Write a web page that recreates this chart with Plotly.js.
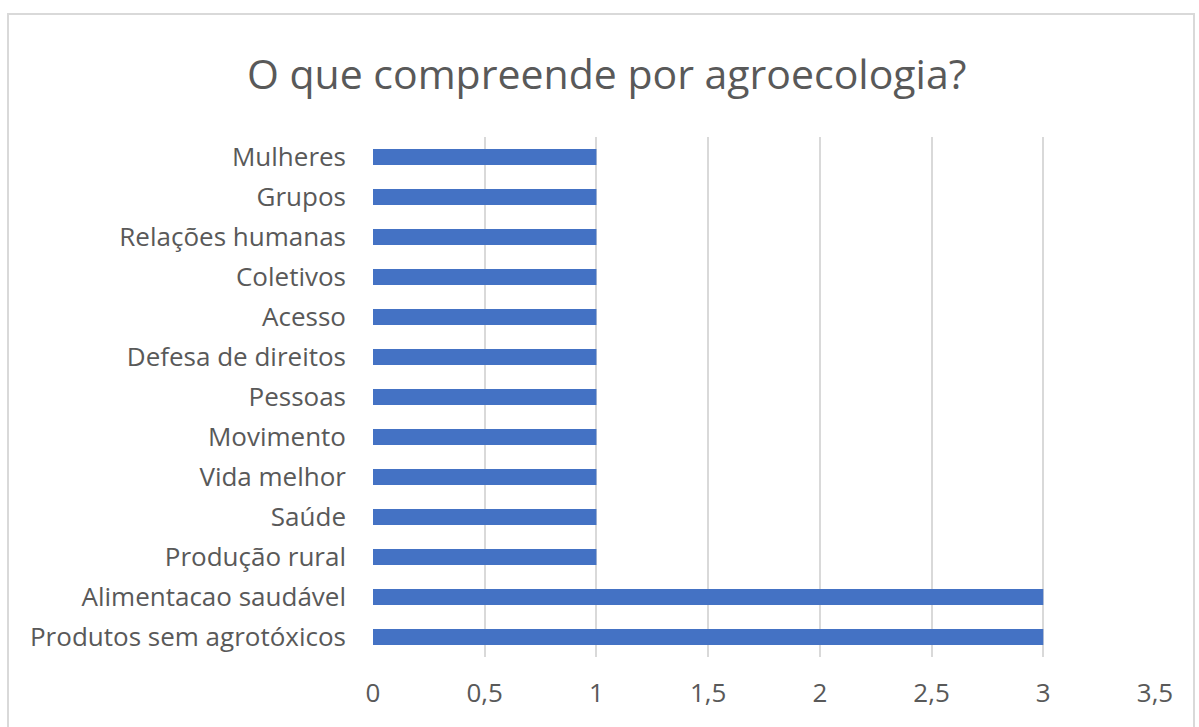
<!DOCTYPE html>
<html><head><meta charset="utf-8">
<script src="https://cdn.plot.ly/plotly-3.0.1.min.js"></script>
<style>
html,body{margin:0;padding:0;background:#fff;overflow:hidden}
#frame{position:absolute;left:7px;top:13px;width:1188px;height:740px;border:2px solid #d9d9d9;box-sizing:border-box}
#chart{position:absolute;left:0;top:0;width:1199px;height:727px}
</style></head><body>
<div id="frame"></div>
<div id="chart"></div>
<script>
const categories = ["Mulheres","Grupos","Relações humanas","Coletivos","Acesso","Defesa de direitos","Pessoas","Movimento","Vida melhor","Saúde","Produção rural","Alimentacao saudável","Produtos sem agrotóxicos"];
const values = [1,1,1,1,1,1,1,1,1,1,1,3,3];
const xTickVals = [0,0.5,1,1.5,2,2.5,3,3.5];
const xTickText = ["0","0,5","1","1,5","2","2,5","3","3,5"];
const titleText = "O que compreende por agroecologia?";

const fontFam = "'Open Sans', 'Noto Sans', sans-serif";
Plotly.newPlot('chart', [{
  type:'bar', orientation:'h', y:categories, x:values,
  marker:{color:'#4472C4'}, hoverinfo:'none'
}], {
  width:1199, height:727,
  paper_bgcolor:'rgba(0,0,0,0)', plot_bgcolor:'rgba(0,0,0,0)',
  margin:{l:373,r:44,t:137,b:70},
  bargap:0.6,
  showlegend:false,
  title:{text:titleText, x:0.506, xanchor:'center', y:0.897, yanchor:'middle',
         font:{family:fontFam, size:41, color:'#595959'}},
  xaxis:{range:[0,3.5], tickvals:xTickVals, ticktext:xTickText,
         showgrid:true, gridcolor:'#d9d9d9', gridwidth:2, zeroline:false,
         showline:false, ticks:'', ticklabelstandoff:18,
         tickfont:{family:fontFam, size:26, color:'#595959'}, fixedrange:true},
  yaxis:{type:'category', autorange:'reversed', showgrid:false, zeroline:false,
         showline:false, ticks:'', ticklabelstandoff:26,
         tickfont:{family:fontFam, size:26, color:'#595959'}, fixedrange:true}
}, {staticPlot:true});
</script>
</body></html>
